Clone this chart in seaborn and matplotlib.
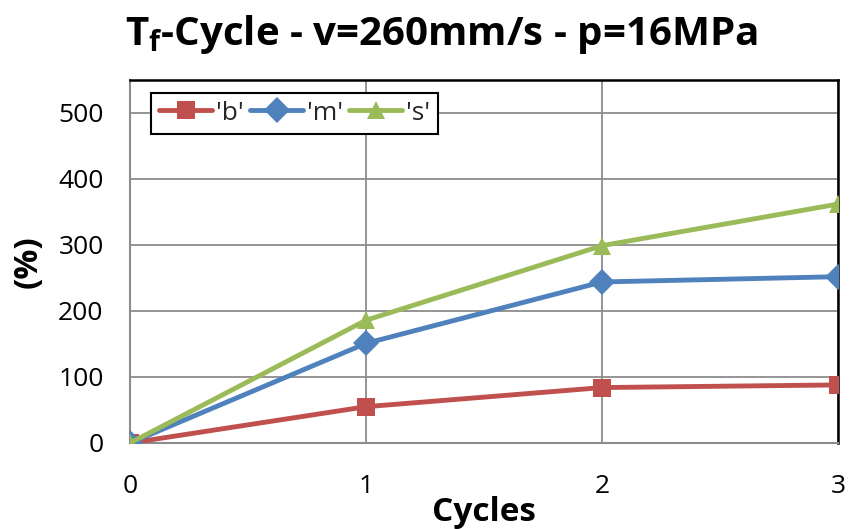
import matplotlib
matplotlib.use("Agg")
import matplotlib.pyplot as plt
import seaborn as sns
import pandas as pd

cycles = [0, 1, 2, 3]
b_vals = [0, 55, 84, 88]
m_vals = [0, 151, 244, 252]
s_vals = [0, 186, 299, 362]
series_names = ["'b'", "'m'", "'s'"]
colors = ["#C0504D", "#4F81BD", "#9BBB59"]
markers = ["s", "D", "^"]
y_ticks = [0, 100, 200, 300, 400, 500]

df = pd.DataFrame({
    "Cycles": cycles * 3,
    "value": b_vals + m_vals + s_vals,
    "series": [series_names[0]] * 4 + [series_names[1]] * 4 + [series_names[2]] * 4,
})

sns.set_theme(style="white")
plt.rcParams["font.family"] = ["Open Sans", "DejaVu Sans"]

fig = plt.figure(figsize=(8.49, 5.29), dpi=100)
ax = fig.add_axes([130 / 849, 1 - 443 / 529, (838 - 130) / 849, (443 - 80) / 529])

sns.lineplot(data=df, x="Cycles", y="value", hue="series", style="series",
             palette=colors, markers=markers, dashes=False, linewidth=3.5,
             markersize=13, markeredgewidth=0, ax=ax)

ax.set_xlim(0, 3)
ax.set_ylim(0, 550)
ax.set_xticks(cycles)
ax.set_yticks(y_ticks)
ax.tick_params(axis="both", labelsize=19, length=0, labelcolor="black")
ax.tick_params(axis="x", pad=22)
ax.tick_params(axis="y", pad=19)
ax.grid(True, color="#8C8C8C", linewidth=1.3)
ax.set_axisbelow(True)
# plot-area frame: black on top/right, grey axis lines on left/bottom
for side in ["top", "right"]:
    ax.spines[side].set_color("black")
    ax.spines[side].set_linewidth(1.8)
for side in ["left", "bottom"]:
    ax.spines[side].set_color("#8C8C8C")
    ax.spines[side].set_linewidth(1.5)
for sp in ax.spines.values():
    sp.set_clip_on(False)
    sp.set_zorder(1)

ax.set_xlabel("Cycles", fontsize=24, fontweight="bold", labelpad=-2, color="black")
ax.set_ylabel("(%)", fontsize=24, fontweight="bold", labelpad=10, color="black")
fig.suptitle(r"T$_\mathregular{f}$-Cycle - v=260mm/s - p=16MPa", fontsize=29,
             fontweight="bold", y=0.975, x=0.52, color="black")

leg = ax.legend(loc="upper left", bbox_to_anchor=(0.03, 0.965), ncol=3,
                fontsize=19, frameon=True, fancybox=False, handlelength=2.0,
                handletextpad=0.15, columnspacing=0.25, borderpad=0.3,
                borderaxespad=0)
leg.get_frame().set_edgecolor("black")
leg.get_frame().set_linewidth(1.5)
leg.get_frame().set_alpha(1)

fig.savefig("out.png", dpi=100)
